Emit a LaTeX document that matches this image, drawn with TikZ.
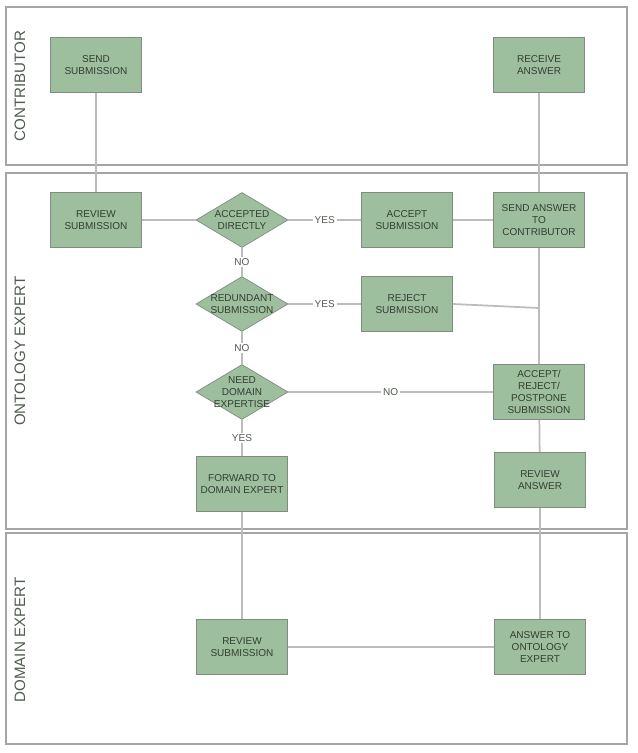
\documentclass[tikz,border=0pt]{standalone}
\usepackage{fontspec}
\setmainfont{Liberation Sans}
\usetikzlibrary{shapes.geometric}
\definecolor{boxgreen}{RGB}{158,191,158}
\definecolor{boxedge}{RGB}{128,140,128}
\definecolor{wire}{RGB}{188,188,188}
\definecolor{laneline}{RGB}{165,165,165}
\definecolor{ink}{RGB}{50,62,50}
\begin{document}
\begin{tikzpicture}[
    x=0.02cm, y=-0.02cm,
    lane/.style={draw=laneline, line width=0.9pt},
    lanecap/.style={font=\fontsize{8.6}{10}\selectfont, text=ink!85, rotate=90},
    task/.style={draw=boxedge, fill=boxgreen, minimum width=1.82cm, minimum height=1.1cm,
        inner sep=1pt, align=center, text=ink, font=\fontsize{5.7}{6.8}\selectfont},
    decision/.style={diamond, draw=boxedge, fill=boxgreen, minimum width=1.84cm,
        minimum height=1.1cm, inner sep=0pt},
    dtext/.style={align=center, text=ink, font=\fontsize{5.7}{6.8}\selectfont},
    wire/.style={draw=wire, line width=1pt},
    tag/.style={fill=white, inner sep=1pt, text=ink!85, font=\fontsize{5.7}{6.8}\selectfont}
]
\useasboundingbox[fill=white] (0,0) rectangle (637,753);

% --- swim lanes ---
\draw[lane] (6,7) rectangle (627,165);
\draw[lane] (6,173) rectangle (627,529);
\draw[lane] (6,533) rectangle (627,744);
\node[lanecap] (lcontrib) at (20,86) {CONTRIBUTOR};
\node[lanecap] (lonto) at (20,351) {ONTOLOGY EXPERT};
\node[lanecap] (ldomain) at (20,640) {DOMAIN EXPERT};

% --- contributor ---
\node[task] (send) at (96,65) {SEND\\SUBMISSION};
\node[task] (receive) at (539,65) {RECEIVE\\ANSWER};

% --- ontology expert ---
\node[task] (review) at (96,220) {REVIEW\\SUBMISSION};
\node[decision, label={[dtext]center:ACCEPTED\\DIRECTLY}] (accepted) at (242,220) {};
\node[task] (accept) at (407,220) {ACCEPT\\SUBMISSION};
\node[task] (sendans) at (539,220) {SEND ANSWER\\TO\\CONTRIBUTOR};
\node[decision, label={[dtext]center:REDUNDANT\\SUBMISSION}] (redundant) at (242,304) {};
\node[task] (reject) at (407,304) {REJECT\\SUBMISSION};
\node[decision, label={[dtext]center:NEED\\DOMAIN\\EXPERTISE}] (need) at (242,392) {};
\node[task] (postpone) at (539,392) {ACCEPT/\\REJECT/\\POSTPONE\\SUBMISSION};
\node[task] (forward) at (242,484) {FORWARD TO\\DOMAIN EXPERT};
\node[task] (revans) at (540,480) {REVIEW\\ANSWER};
\coordinate (rejjoin) at (539,308);

% --- domain expert ---
\node[task] (drev) at (242,647) {REVIEW\\SUBMISSION};
\node[task] (answer) at (540,647) {ANSWER TO\\ONTOLOGY\\EXPERT};

% --- connectors ---
\path[wire] (send) -- (review);
\path[wire] (review) -- (accepted);
\path[wire] (accepted) -- node[tag] {YES} (accept);
\path[wire] (accepted) -- node[tag] {NO} (redundant);
\path[wire] (redundant) -- node[tag] {YES} (reject);
\path[wire] (redundant) -- node[tag] {NO} (need);
\path[wire] (need) -- node[tag] {NO} (postpone);
\path[wire] (need) -- node[tag] {YES} (forward);
\path[wire] (accept) -- (sendans);
\path[wire] (sendans) -- (receive);
\path[wire] (sendans) -- (postpone);
\path[wire] (reject.east) -- (rejjoin);
\path[wire] (postpone) -- (revans);
\path[wire] (forward) -- (drev);
\path[wire] (revans) -- (answer);
\path[wire] (drev) -- (answer);

\end{tikzpicture}
\end{document}
